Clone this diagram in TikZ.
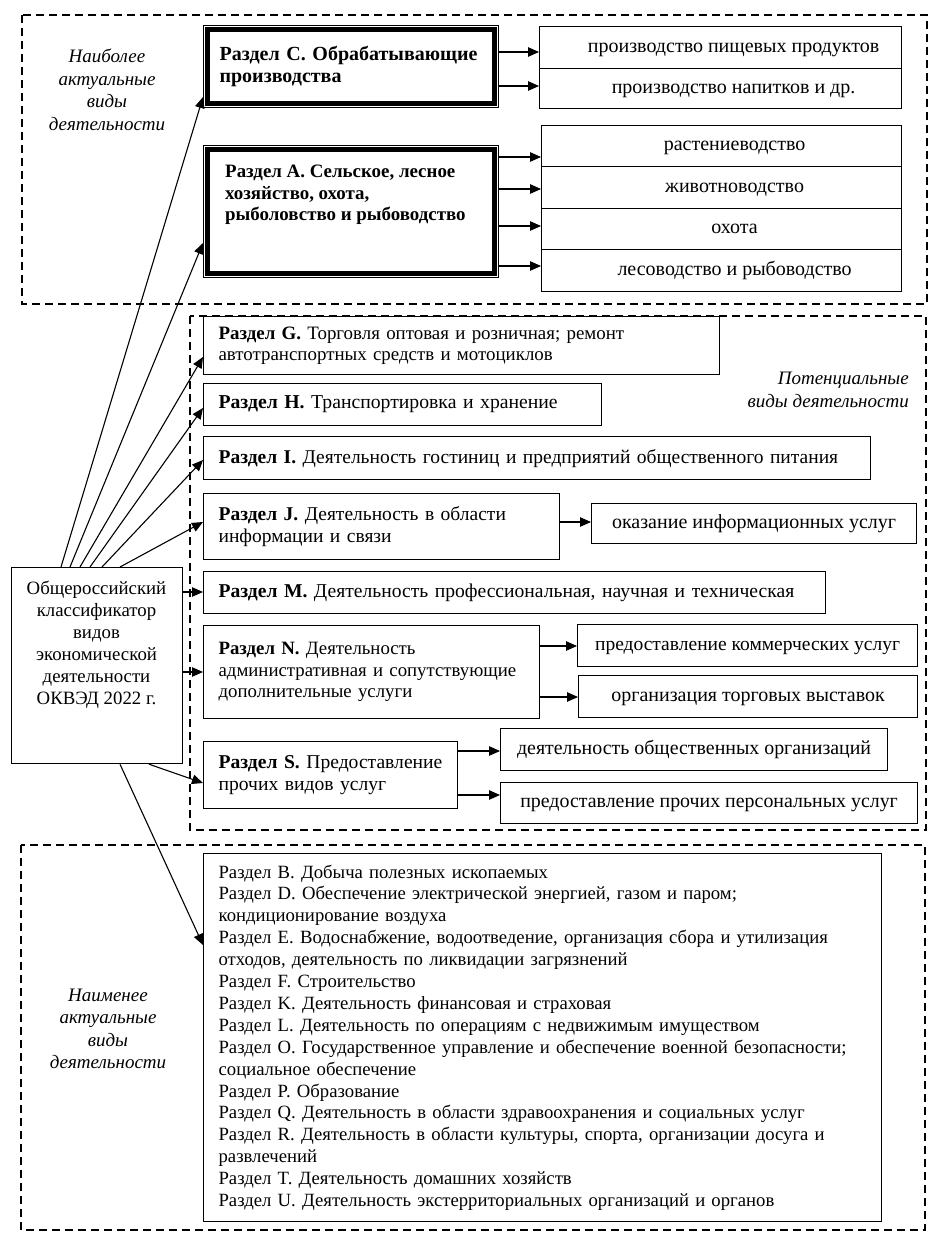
\documentclass[tikz,border=0pt]{standalone}
\usepackage{fontspec}
\setmainfont{Liberation Serif}
\usetikzlibrary{arrows.meta,calc}
\newcommand{\myfs}[1]{\fontsize{#1}{21.7}\selectfont}
\begin{document}
\begin{tikzpicture}[x=1pt,y=-1pt,
  font=\myfs{19.6},
  frame/.style={draw, line width=1.4pt, dash pattern=on 8pt off 5pt},
  box/.style={draw, line width=1.2pt, inner sep=0pt, anchor=north west},
  lbox/.style={box, align=left, inner xsep=15pt},
  cbox/.style={box, align=center, text height=13.5pt, text depth=4.5pt},
  thin/.style={draw, line width=1.2pt, inner sep=0pt, anchor=north west},
  arr/.style={-{Triangle[length=11pt,width=9.5pt]}, line width=1.1pt},
  lab/.style={inner sep=0pt, align=center, font=\fontsize{19}{22.5}\selectfont\itshape}
]
\useasboundingbox (0,0) rectangle (940,1248);

% frames
\draw[frame] (22,15) rectangle (927,304);
\draw[frame] (190,316) rectangle (926,830);
\draw[frame] (21,845) rectangle (925,1230);

% labels
\node[lab] (lab1) at (107,90) {Наиболее\\актуальные\\виды\\деятельности};
\node[lab, align=right, anchor=east] (lab2) at (909,390) {Потенциальные\\виды деятельности};
\node[lab] (lab3) at (108,1029) {Наименее\\актуальные\\виды\\деятельности};

% section C
\node[thin, minimum width=295pt, minimum height=82pt, align=left, inner xsep=16pt, font=\fontsize{20}{21.5}\selectfont\bfseries, text width=263pt] (C) at (203,25) {Раздел C. Обрабатывающие\\производства};
\draw[line width=4.6pt] ($(C.north west)+(4.6,4.6)$) rectangle ($(C.south east)+(-4.6,-4.6)$);
\node[cbox, font=\myfs{20}, minimum width=362pt, minimum height=42pt] (c1) at (539,26) {\hspace*{26pt}производство пищевых продуктов};
\node[cbox, font=\myfs{20}, minimum width=362pt, minimum height=40pt] (c2) at (539,68) {\hspace*{26pt}производство напитков и др.};
\draw[arr] (C.east |- 0,52) -- (c1.west |- 0,52);
\draw[arr] (C.east |- 0,86) -- (c2.west |- 0,86);

% section A
\node[thin, minimum width=295pt, minimum height=132pt] (A) at (203,145) {};
\draw[line width=4.6pt] ($(A.north west)+(4.6,4.6)$) rectangle ($(A.south east)+(-4.6,-4.6)$);
\node[inner sep=0pt, anchor=north west, align=left, font=\fontsize{18.9}{21.5}\selectfont\bfseries] (atxt) at (225,165) {Раздел A. Сельское, лесное\\хозяйство, охота,\\рыболовство и рыбоводство};
\node[cbox, font=\myfs{20}, minimum width=360pt, minimum height=41pt] (a1) at (541,125) {\hspace*{26pt}растениеводство};
\node[cbox, font=\myfs{20}, minimum width=360pt, minimum height=42pt] (a2) at (541,166) {\hspace*{26pt}животноводство};
\node[cbox, font=\myfs{20}, minimum width=360pt, minimum height=41pt] (a3) at (541,208) {\hspace*{26pt}охота};
\node[cbox, font=\myfs{20}, minimum width=360pt, minimum height=42pt] (a4) at (541,249) {\hspace*{26pt}лесоводство и рыбоводство};
\draw[arr] (A.east |- 0,157) -- (a1.west |- 0,157);
\draw[arr] (A.east |- 0,189) -- (a2.west |- 0,189);
\draw[arr] (A.east |- 0,226) -- (a3.west |- 0,226);
\draw[arr] (A.east |- 0,266) -- (a4.west |- 0,266);

% potential sections
\node[lbox, font=\myfs{18.9}, minimum width=516pt, minimum height=58pt, text width=486pt] (G) at (203,316) {\textbf{Раздел G.} Торговля оптовая и розничная; ремонт\\автотранспортных средств и мотоциклов};
\node[lbox, font=\myfs{19.7}, minimum width=398pt, minimum height=42pt, text width=368pt] (H) at (203,383) {\textbf{Раздел H.} Транспортировка и хранение};
\node[lbox, font=\myfs{19.5}, minimum width=667pt, minimum height=43pt, text width=637pt] (I) at (203,436) {\textbf{Раздел I.} Деятельность гостиниц и предприятий общественного питания};
\node[lbox, font=\myfs{19.5}, minimum width=356pt, minimum height=66pt, text width=326pt] (J) at (203,493) {\textbf{Раздел J.} Деятельность в области\\информации и связи};
\node[cbox, font=\myfs{20}, minimum width=325pt, minimum height=40pt] (j1) at (591,503) {оказание информационных услуг};
\draw[arr] (J.east |- 0,522) -- (j1.west |- 0,522);
\node[lbox, font=\myfs{19.6}, minimum width=622pt, minimum height=42pt, text width=592pt] (M) at (203,571) {\textbf{Раздел M.} Деятельность профессиональная, научная и техническая};
\node[lbox, font=\myfs{18.8}, minimum width=336pt, minimum height=93pt, text width=306pt] (N) at (203,625) {\textbf{Раздел N.} Деятельность\\административная и сопутствующие\\дополнительные услуги};
\node[cbox, font=\myfs{19.5}, minimum width=340pt, minimum height=42pt] (n1) at (577,624) {предоставление коммерческих услуг};
\node[cbox, font=\myfs{20}, minimum width=339pt, minimum height=42pt] (n2) at (578,675) {организация торговых выставок};
\draw[arr] (N.east |- 0,646) -- (n1.west |- 0,646);
\draw[arr] (N.east |- 0,697) -- (n2.west |- 0,697);
\node[lbox, font=\myfs{19.6}, minimum width=254pt, minimum height=67pt, text width=224pt] (S) at (203,741) {\mbox{\textbf{Раздел S.} Предоставление}\\прочих видов услуг};
\node[cbox, font=\myfs{19.9}, minimum width=387pt, minimum height=42pt] (s1) at (500,728) {деятельность общественных организаций};
\node[cbox, font=\myfs{19.9}, minimum width=417pt, minimum height=41pt] (s2) at (500,782) {предоставление прочих персональных услуг};
\draw[arr] (S.east |- 0,751) -- (s1.west |- 0,751);
\draw[arr] (S.east |- 0,795) -- (s2.west |- 0,795);

% least relevant list
\node[lbox, minimum width=678pt, minimum height=368pt, text width=648pt, font=\fontsize{18.7}{21.9}\selectfont] (L) at (203,853) {Раздел B. Добыча полезных ископаемых\\
Раздел D. Обеспечение электрической энергией, газом и паром;\\
кондиционирование воздуха\\
Раздел E. Водоснабжение, водоотведение, организация сбора и утилизация\\
отходов, деятельность по ликвидации загрязнений\\
Раздел F. Строительство\\
Раздел K. Деятельность финансовая и страховая\\
Раздел L. Деятельность по операциям с недвижимым имуществом\\
Раздел O. Государственное управление и обеспечение военной безопасности;\\
социальное обеспечение\\
Раздел P. Образование\\
Раздел Q. Деятельность в области здравоохранения и социальных услуг\\
Раздел R. Деятельность в области культуры, спорта, организации досуга и\\
развлечений\\
Раздел T. Деятельность домашних хозяйств\\
Раздел U. Деятельность экстерриториальных организаций и органов};

% main classifier box
\node[box, minimum width=171pt, minimum height=196pt] (main) at (11,567) {};
\node[inner sep=0pt, anchor=north, align=center, font=\fontsize{18.8}{22}\selectfont] (mtxt) at (96.5,581) {Общероссийский\\классификатор\\видов\\экономической\\деятельности\\ОКВЭД 2022 г.};

% connectors from main box
\draw[arr] ($(main.north west)+(50,0)$) -- (C.west |- 0,97);
\draw[arr] ($(main.north west)+(59,0)$) -- (A.west |- 0,243);
\draw[arr] ($(main.north west)+(69,0)$) -- (G.west |- 0,357);
\draw[arr] ($(main.north west)+(79,0)$) -- (H.west |- 0,408);
\draw[arr] ($(main.north west)+(91,0)$) -- (I.west |- 0,460);
\draw[arr] ($(main.north west)+(109,0)$) -- (J.west |- 0,522);
\draw[arr] (main.east |- 0,592) -- (M.west |- 0,592);
\draw[arr] (main.east |- 0,672) -- (N.west |- 0,672);
\draw[arr] ($(main.south west)+(138,0)$) -- (S.west |- 0,783);
\draw[arr] ($(main.south west)+(109,0)$) -- (L.west |- 0,945);
\end{tikzpicture}
\end{document}
